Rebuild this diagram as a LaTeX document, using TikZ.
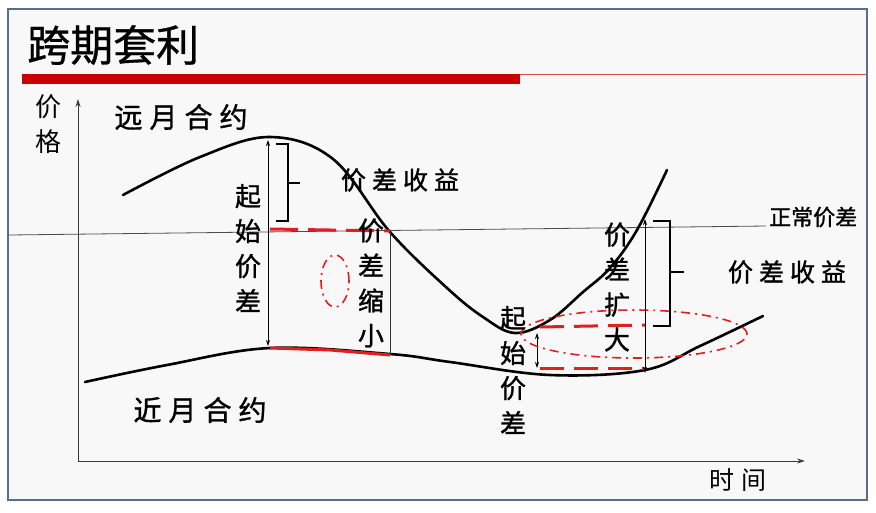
\documentclass[tikz,border=0pt]{standalone}
\usepackage{fontspec}
\setmainfont{Noto Sans CJK SC}
\newfontfamily\labfont[FakeBold=1.2]{Noto Sans CJK SC}
\newfontfamily\titlefont[FakeBold=0.8]{Noto Sans CJK SC}
\usetikzlibrary{arrows.meta}
\definecolor{framecol}{HTML}{5B6E88}
\definecolor{barred}{HTML}{C80000}
\definecolor{dred}{HTML}{E02020}
\definecolor{axiscol}{HTML}{3A3A3A}
\definecolor{bgcol}{HTML}{F8F8F8}
\tikzset{
  curve/.style={line width=2.6pt, black, line cap=round},
  thinline/.style={line width=0.8pt, axiscol},
  dblarrow/.style={line width=0.9pt, black, {Stealth[length=6pt,width=4pt]}-{Stealth[length=6pt,width=4pt]}},
  brace/.style={line width=2.2pt, black},
  reddash/.style={line width=3pt, dred, dash pattern=on 28pt off 10pt},
  reddashdot/.style={line width=1.6pt, dred, dash pattern=on 9pt off 5pt on 2pt off 5pt},
  vlabel/.style={inner sep=0pt, align=center, font=\labfont\fontsize{26}{35}\selectfont},
  hlabel/.style={inner sep=0pt, font=\labfont\fontsize{28}{30}\selectfont},
  mlabel/.style={inner sep=0pt, font=\labfont\fontsize{25}{28}\selectfont}
}
\begin{document}
\begin{tikzpicture}[x=1pt,y=-1pt]
\useasboundingbox (0,0) rectangle (876,512);
\fill[white] (0,0) rectangle (876,512);
\fill[bgcol] (8,9) rectangle (867,500);
\draw[framecol, line width=1.5pt] (8,9) rectangle (867,500);

% title
\node[inner sep=0pt, anchor=west, font=\titlefont\fontsize{43}{45}\selectfont] (title) at (27,45) {跨期套利};
\fill[barred] (22,74) rectangle (520,84);
\draw[barred!70, line width=0.8pt] (520,74.5) -- (866,74.5);

% axes
\coordinate (O) at (78,461);
\coordinate (ytop) at (78,99);
\coordinate (xend) at (805,461);
\draw[thinline, -{Stealth[length=8pt,width=5pt]}] (O) -- (ytop);
\draw[thinline, -{Stealth[length=8pt,width=5pt]}] (O) -- (xend);
\node[vlabel, font=\fontsize{26}{35}\selectfont] (jiage) at (48,124) {价\\格};
\node[mlabel, font=\fontsize{25}{28}\selectfont] (shijian) at (738,480) {时\hspace{7pt}间};

% normal spread line
\coordinate (nl) at (9,235);
\coordinate (nr) at (766,226);
\draw[line width=0.8pt, black!70] (nl) -- (nr);
\node[inner sep=0pt, anchor=west, font=\labfont\fontsize{22}{24}\selectfont] (zc) at (769,217) {正常价差};

% far-month curve
\draw[curve] plot[smooth, tension=0.6] coordinates {(123,195) (200,157) (270,137) (333,159) (390,232) (447,288) (483,317) (515,333) (550,320) (583,292) (610,268) (637,230) (667,170)};
% near-month curve
\draw[curve] plot[smooth, tension=0.6] coordinates {(85,382) (167,365) (270,348) (390,354) (450,362) (550,375) (645,370) (700,346) (763,316)};

\node[hlabel] (far) at (181,117) {远\hspace{7pt}月\hspace{7pt}合\hspace{7pt}约};
\node[hlabel] (near) at (200,410) {近\hspace{7pt}月\hspace{7pt}合\hspace{7pt}约};

% left part
\coordinate (a1) at (268,140);
\coordinate (a2) at (268,346);
\draw[dblarrow] (a1) -- (a2);
\draw[brace] (276,144) -- (288,144) -- (288,221) -- (276,221);
\draw[brace] (288,183) -- (300,183);
\node[mlabel] (gain1) at (400,180) {价\hspace{6pt}差\hspace{6pt}收\hspace{6pt}益};
\node[vlabel] (start1) at (248,248) {起\\始\\价\\差};

\coordinate (b1) at (390,232);
\coordinate (b2) at (390,354);
\draw[line width=0.9pt, black!80] (b1) -- (b2);
\draw[reddash] (270,229) -- (390,231);
\draw[line width=3pt, dred] (270,348) -- (330,350) -- (390,355);
\node[vlabel] (shrink) at (371,283) {价\\差\\缩\\小};
\draw[reddashdot] (335,281) ellipse [x radius=14pt, y radius=26pt];

% right part
\coordinate (c1) at (537,333);
\coordinate (c2) at (537,368);
\draw[dblarrow] (c1) -- (c2);
\draw[reddash, dash pattern=on 24pt off 10pt] (540,327) -- (645,325);
\draw[reddash, dash pattern=on 24pt off 10pt] (540,368) -- (645,368);
\draw[reddashdot] (634,334) ellipse [x radius=113pt, y radius=24pt];
\node[vlabel] (start2) at (513,370) {起\\始\\价\\差};

\coordinate (d1) at (645,219);
\coordinate (d2) at (645,373);
\draw[dblarrow, line width=0.8pt] (d1) -- (d2);
\draw[brace] (653,221) -- (670,221) -- (670,326) -- (653,326);
\draw[brace] (670,272) -- (684,272);
\node[vlabel] (widen) at (617,287) {价\\差\\扩\\大};
\node[mlabel] (gain2) at (787,272) {价\hspace{6pt}差\hspace{6pt}收\hspace{6pt}益};
\end{tikzpicture}
\end{document}
